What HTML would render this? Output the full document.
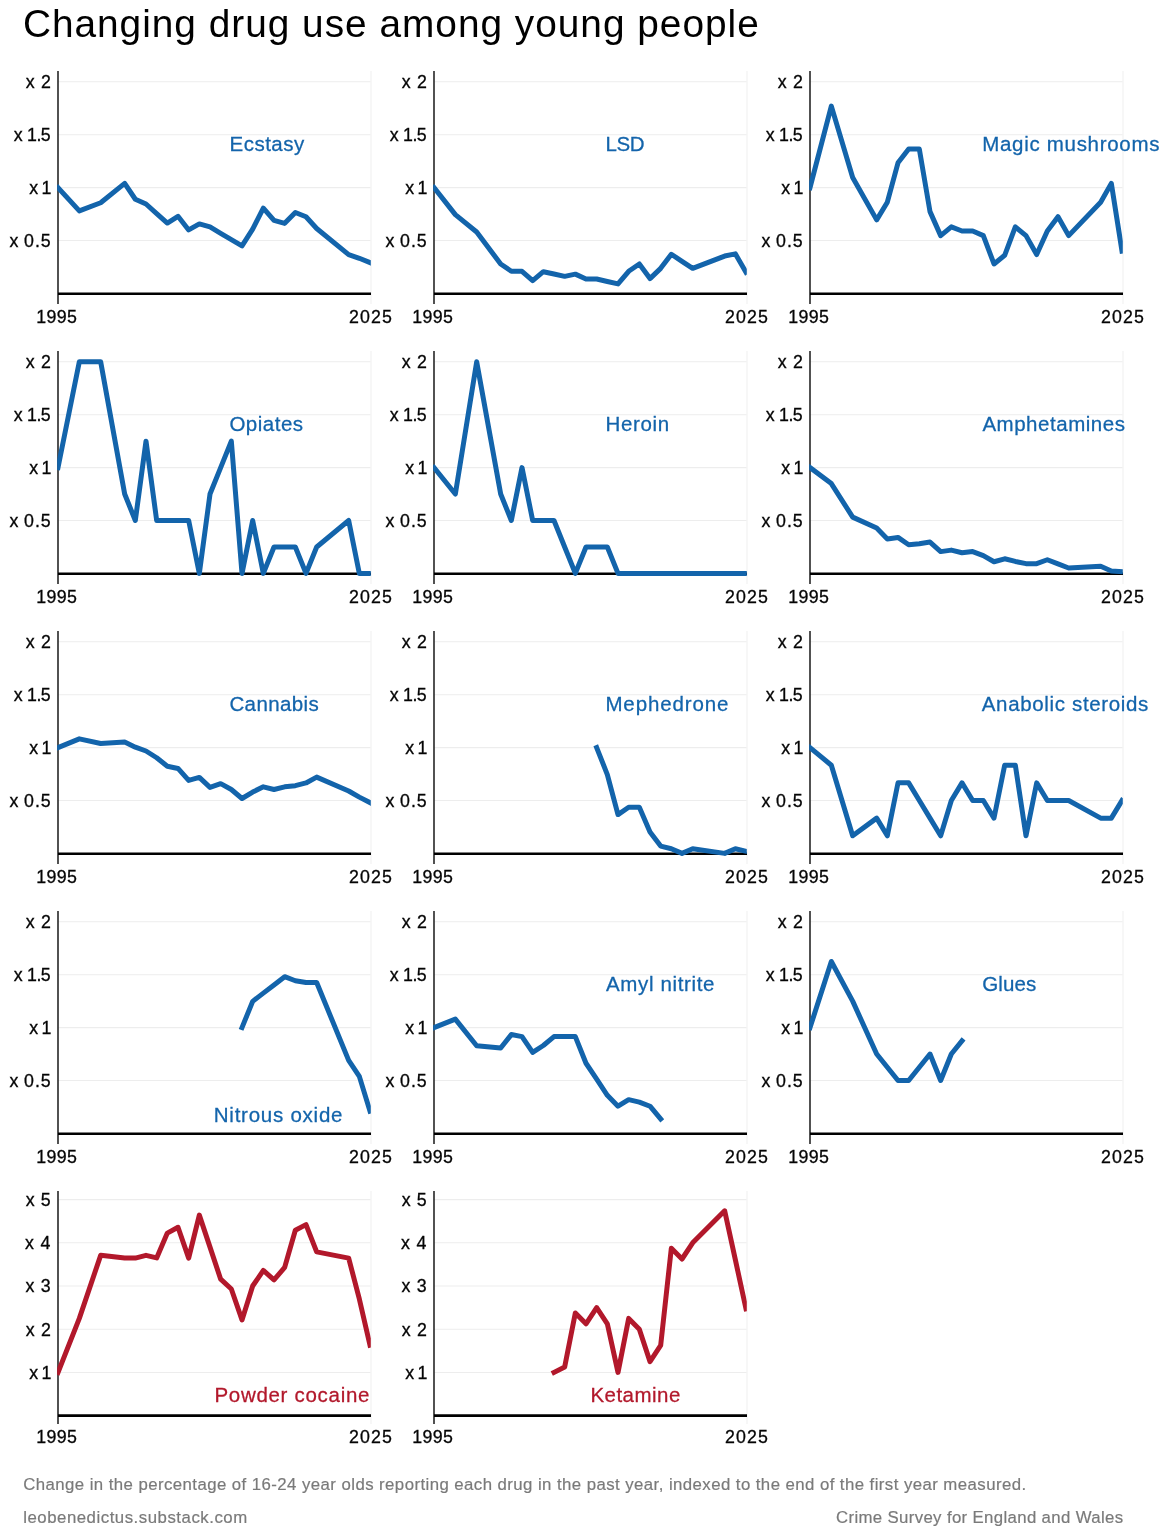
<!DOCTYPE html>
<html lang="en"><head><meta charset="utf-8"><title>Changing drug use among young people</title>
<style>
html,body{margin:0;padding:0;background:#ffffff;}
body{width:1169px;height:1536px;overflow:hidden;font-family:"Liberation Sans",sans-serif;}
svg{display:block;font-family:"Liberation Sans",sans-serif;}
.title{font-size:38.8px;fill:#000000;}
.tick{font-size:17.8px;fill:#050505;stroke:#050505;stroke-width:0.3px;}
.lab{font-size:20.5px;stroke-width:0.28px;}
.cap{font-size:16.8px;fill:#7a7a7a;stroke:#7a7a7a;stroke-width:0.2px;}
.grid{stroke:#ededed;stroke-width:1.05;fill:none;}
.axis{stroke:#262626;stroke-width:1.6;fill:none;}
.base{stroke:#000000;stroke-width:2.55;fill:none;}
.ln{fill:none;stroke-width:5;stroke-linejoin:round;stroke-linecap:square;}
#wrap{width:1169px;height:1536px;will-change:transform;}
</style></head><body><div id="wrap">
<svg width="1169" height="1536" viewBox="0 0 1169 1536">
<text class="title" x="22.90" y="37.3" style="letter-spacing:0.994px">Changing drug use among young people</text>
<defs>
<clipPath id="cp0"><rect x="57.15" y="65.00" width="313.65" height="246.00"/></clipPath>
<clipPath id="cp1"><rect x="433.15" y="65.00" width="313.65" height="246.00"/></clipPath>
<clipPath id="cp2"><rect x="809.15" y="65.00" width="313.65" height="246.00"/></clipPath>
<clipPath id="cp3"><rect x="57.15" y="345.00" width="313.65" height="246.00"/></clipPath>
<clipPath id="cp4"><rect x="433.15" y="345.00" width="313.65" height="246.00"/></clipPath>
<clipPath id="cp5"><rect x="809.15" y="345.00" width="313.65" height="246.00"/></clipPath>
<clipPath id="cp6"><rect x="57.15" y="625.00" width="313.65" height="246.00"/></clipPath>
<clipPath id="cp7"><rect x="433.15" y="625.00" width="313.65" height="246.00"/></clipPath>
<clipPath id="cp8"><rect x="809.15" y="625.00" width="313.65" height="246.00"/></clipPath>
<clipPath id="cp9"><rect x="57.15" y="905.00" width="313.65" height="246.00"/></clipPath>
<clipPath id="cp10"><rect x="433.15" y="905.00" width="313.65" height="246.00"/></clipPath>
<clipPath id="cp11"><rect x="809.15" y="905.00" width="313.65" height="246.00"/></clipPath>
<clipPath id="cp12"><rect x="57.15" y="1185.00" width="313.65" height="246.00"/></clipPath>
<clipPath id="cp13"><rect x="433.15" y="1185.00" width="313.65" height="246.00"/></clipPath>
</defs>
<g>
<line class="grid" x1="58.00" y1="240.50" x2="370.60" y2="240.50"/>
<text class="tick" x="9.60" y="246.90">x</text>
<text class="tick" x="24.12" y="246.90" style="letter-spacing:0.940px">0.5</text>
<line class="grid" x1="58.00" y1="187.60" x2="370.60" y2="187.60"/>
<text class="tick" x="29.20" y="194.00">x</text>
<text class="tick" x="41.56" y="194.00">1</text>
<line class="grid" x1="58.00" y1="134.70" x2="370.60" y2="134.70"/>
<text class="tick" x="13.80" y="141.10">x</text>
<text class="tick" x="27.06" y="141.10" style="letter-spacing:-0.530px">1.5</text>
<line class="grid" x1="58.00" y1="81.80" x2="370.60" y2="81.80"/>
<text class="tick" x="25.80" y="88.20">x</text>
<text class="tick" x="40.98" y="88.20">2</text>
<line class="grid" style="stroke:#f0f0f0" x1="371.00" y1="71.00" x2="371.00" y2="304.00"/>
<line class="axis" x1="58.00" y1="71.00" x2="58.00" y2="304.00"/>
<line class="base" x1="58.00" y1="293.70" x2="371.00" y2="293.70"/>
<text class="tick" x="36.26" y="323.40" style="letter-spacing:0.327px">1995</text>
<text class="tick" x="348.92" y="323.40" style="letter-spacing:1.173px">2025</text>
<polyline class="ln" clip-path="url(#cp0)" stroke="#1364ab" points="58.00,187.60 79.33,210.88 100.67,202.73 124.67,183.37 135.33,199.24 146.00,204.00 156.67,213.52 167.33,223.04 178.00,216.27 188.67,229.92 199.33,223.89 210.00,226.96 220.67,233.31 231.33,239.55 242.00,245.90 252.67,229.18 263.33,208.13 274.00,220.40 284.67,223.36 295.33,212.46 306.00,216.80 316.67,228.44 348.67,254.57 359.33,258.27 370.00,262.61"/>
<text class="lab" id="lab0" fill="#1364ab" stroke="#1364ab" x="229.60" y="150.90" style="letter-spacing:0.467px">Ecstasy</text>
</g>
<g>
<line class="grid" x1="434.00" y1="240.50" x2="746.60" y2="240.50"/>
<text class="tick" x="385.60" y="246.90">x</text>
<text class="tick" x="400.12" y="246.90" style="letter-spacing:0.940px">0.5</text>
<line class="grid" x1="434.00" y1="187.60" x2="746.60" y2="187.60"/>
<text class="tick" x="405.20" y="194.00">x</text>
<text class="tick" x="417.56" y="194.00">1</text>
<line class="grid" x1="434.00" y1="134.70" x2="746.60" y2="134.70"/>
<text class="tick" x="389.80" y="141.10">x</text>
<text class="tick" x="403.06" y="141.10" style="letter-spacing:-0.530px">1.5</text>
<line class="grid" x1="434.00" y1="81.80" x2="746.60" y2="81.80"/>
<text class="tick" x="401.80" y="88.20">x</text>
<text class="tick" x="416.98" y="88.20">2</text>
<line class="grid" style="stroke:#f0f0f0" x1="747.00" y1="71.00" x2="747.00" y2="304.00"/>
<line class="axis" x1="434.00" y1="71.00" x2="434.00" y2="304.00"/>
<line class="base" x1="434.00" y1="293.70" x2="747.00" y2="293.70"/>
<text class="tick" x="412.26" y="323.40" style="letter-spacing:0.327px">1995</text>
<text class="tick" x="724.92" y="323.40" style="letter-spacing:1.173px">2025</text>
<polyline class="ln" clip-path="url(#cp1)" stroke="#1364ab" points="434.00,187.60 455.33,214.58 476.67,232.04 500.67,263.99 511.33,271.29 522.00,271.29 532.67,280.70 543.33,271.71 554.00,274.04 564.67,276.37 575.33,274.14 586.00,279.01 596.67,279.01 607.33,281.44 618.00,283.88 628.67,271.29 639.33,263.99 650.00,278.59 660.67,268.33 671.33,254.25 682.00,261.34 692.67,268.33 724.67,256.05 735.33,253.83 746.00,272.24"/>
<text class="lab" id="lab1" fill="#1364ab" stroke="#1364ab" x="605.40" y="150.90" style="letter-spacing:-0.300px">LSD</text>
</g>
<g>
<line class="grid" x1="810.00" y1="240.50" x2="1122.60" y2="240.50"/>
<text class="tick" x="761.60" y="246.90">x</text>
<text class="tick" x="776.12" y="246.90" style="letter-spacing:0.940px">0.5</text>
<line class="grid" x1="810.00" y1="187.60" x2="1122.60" y2="187.60"/>
<text class="tick" x="781.20" y="194.00">x</text>
<text class="tick" x="793.56" y="194.00">1</text>
<line class="grid" x1="810.00" y1="134.70" x2="1122.60" y2="134.70"/>
<text class="tick" x="765.80" y="141.10">x</text>
<text class="tick" x="779.06" y="141.10" style="letter-spacing:-0.530px">1.5</text>
<line class="grid" x1="810.00" y1="81.80" x2="1122.60" y2="81.80"/>
<text class="tick" x="777.80" y="88.20">x</text>
<text class="tick" x="792.98" y="88.20">2</text>
<line class="grid" style="stroke:#f0f0f0" x1="1123.00" y1="71.00" x2="1123.00" y2="304.00"/>
<line class="axis" x1="810.00" y1="71.00" x2="810.00" y2="304.00"/>
<line class="base" x1="810.00" y1="293.70" x2="1123.00" y2="293.70"/>
<text class="tick" x="788.26" y="323.40" style="letter-spacing:0.327px">1995</text>
<text class="tick" x="1100.92" y="323.40" style="letter-spacing:1.173px">2025</text>
<polyline class="ln" clip-path="url(#cp2)" stroke="#1364ab" points="810.00,187.60 831.33,106.13 852.67,177.44 876.67,219.87 887.33,202.20 898.00,162.84 908.67,149.09 919.33,149.09 930.00,211.62 940.67,235.63 951.33,226.85 962.00,230.98 972.67,230.98 983.33,235.63 994.00,263.99 1004.67,255.31 1015.33,226.85 1026.00,235.63 1036.67,254.57 1047.33,230.98 1058.00,216.69 1068.67,235.63 1100.67,202.20 1111.33,183.37 1122.00,251.08"/>
<text class="lab" id="lab2" fill="#1364ab" stroke="#1364ab" x="982.20" y="150.90" style="letter-spacing:0.700px">Magic mushrooms</text>
</g>
<g>
<line class="grid" x1="58.00" y1="520.50" x2="370.60" y2="520.50"/>
<text class="tick" x="9.60" y="526.90">x</text>
<text class="tick" x="24.12" y="526.90" style="letter-spacing:0.940px">0.5</text>
<line class="grid" x1="58.00" y1="467.60" x2="370.60" y2="467.60"/>
<text class="tick" x="29.20" y="474.00">x</text>
<text class="tick" x="41.56" y="474.00">1</text>
<line class="grid" x1="58.00" y1="414.70" x2="370.60" y2="414.70"/>
<text class="tick" x="13.80" y="421.10">x</text>
<text class="tick" x="27.06" y="421.10" style="letter-spacing:-0.530px">1.5</text>
<line class="grid" x1="58.00" y1="361.80" x2="370.60" y2="361.80"/>
<text class="tick" x="25.80" y="368.20">x</text>
<text class="tick" x="40.98" y="368.20">2</text>
<line class="grid" style="stroke:#f0f0f0" x1="371.00" y1="351.00" x2="371.00" y2="584.00"/>
<line class="axis" x1="58.00" y1="351.00" x2="58.00" y2="584.00"/>
<line class="base" x1="58.00" y1="573.70" x2="371.00" y2="573.70"/>
<text class="tick" x="36.26" y="603.40" style="letter-spacing:0.327px">1995</text>
<text class="tick" x="348.92" y="603.40" style="letter-spacing:1.173px">2025</text>
<polyline class="ln" clip-path="url(#cp3)" stroke="#1364ab" points="58.00,467.60 79.33,361.80 100.67,361.80 124.67,494.05 135.33,520.50 146.00,441.15 156.67,520.50 167.33,520.50 178.00,520.50 188.67,520.50 199.33,573.40 210.00,494.05 220.67,467.60 231.33,441.15 242.00,573.40 252.67,520.50 263.33,573.40 274.00,546.95 284.67,546.95 295.33,546.95 306.00,573.40 316.67,546.95 348.67,520.50 359.33,573.40 370.00,573.40"/>
<text class="lab" id="lab3" fill="#1364ab" stroke="#1364ab" x="229.40" y="430.90" style="letter-spacing:0.500px">Opiates</text>
</g>
<g>
<line class="grid" x1="434.00" y1="520.50" x2="746.60" y2="520.50"/>
<text class="tick" x="385.60" y="526.90">x</text>
<text class="tick" x="400.12" y="526.90" style="letter-spacing:0.940px">0.5</text>
<line class="grid" x1="434.00" y1="467.60" x2="746.60" y2="467.60"/>
<text class="tick" x="405.20" y="474.00">x</text>
<text class="tick" x="417.56" y="474.00">1</text>
<line class="grid" x1="434.00" y1="414.70" x2="746.60" y2="414.70"/>
<text class="tick" x="389.80" y="421.10">x</text>
<text class="tick" x="403.06" y="421.10" style="letter-spacing:-0.530px">1.5</text>
<line class="grid" x1="434.00" y1="361.80" x2="746.60" y2="361.80"/>
<text class="tick" x="401.80" y="368.20">x</text>
<text class="tick" x="416.98" y="368.20">2</text>
<line class="grid" style="stroke:#f0f0f0" x1="747.00" y1="351.00" x2="747.00" y2="584.00"/>
<line class="axis" x1="434.00" y1="351.00" x2="434.00" y2="584.00"/>
<line class="base" x1="434.00" y1="573.70" x2="747.00" y2="573.70"/>
<text class="tick" x="412.26" y="603.40" style="letter-spacing:0.327px">1995</text>
<text class="tick" x="724.92" y="603.40" style="letter-spacing:1.173px">2025</text>
<polyline class="ln" clip-path="url(#cp4)" stroke="#1364ab" points="434.00,467.60 455.33,494.05 476.67,361.80 500.67,494.05 511.33,520.50 522.00,467.60 532.67,520.50 543.33,520.50 554.00,520.50 564.67,546.95 575.33,573.40 586.00,546.95 596.67,546.95 607.33,546.95 618.00,573.40 628.67,573.40 639.33,573.40 650.00,573.40 660.67,573.40 671.33,573.40 682.00,573.40 692.67,573.40 724.67,573.40 735.33,573.40 746.00,573.40"/>
<text class="lab" id="lab4" fill="#1364ab" stroke="#1364ab" x="605.40" y="430.90" style="letter-spacing:0.680px">Heroin</text>
</g>
<g>
<line class="grid" x1="810.00" y1="520.50" x2="1122.60" y2="520.50"/>
<text class="tick" x="761.60" y="526.90">x</text>
<text class="tick" x="776.12" y="526.90" style="letter-spacing:0.940px">0.5</text>
<line class="grid" x1="810.00" y1="467.60" x2="1122.60" y2="467.60"/>
<text class="tick" x="781.20" y="474.00">x</text>
<text class="tick" x="793.56" y="474.00">1</text>
<line class="grid" x1="810.00" y1="414.70" x2="1122.60" y2="414.70"/>
<text class="tick" x="765.80" y="421.10">x</text>
<text class="tick" x="779.06" y="421.10" style="letter-spacing:-0.530px">1.5</text>
<line class="grid" x1="810.00" y1="361.80" x2="1122.60" y2="361.80"/>
<text class="tick" x="777.80" y="368.20">x</text>
<text class="tick" x="792.98" y="368.20">2</text>
<line class="grid" style="stroke:#f0f0f0" x1="1123.00" y1="351.00" x2="1123.00" y2="584.00"/>
<line class="axis" x1="810.00" y1="351.00" x2="810.00" y2="584.00"/>
<line class="base" x1="810.00" y1="573.70" x2="1123.00" y2="573.70"/>
<text class="tick" x="788.26" y="603.40" style="letter-spacing:0.327px">1995</text>
<text class="tick" x="1100.92" y="603.40" style="letter-spacing:1.173px">2025</text>
<polyline class="ln" clip-path="url(#cp5)" stroke="#1364ab" points="810.00,467.60 831.33,483.58 852.67,517.11 876.67,528.01 887.33,538.91 898.00,537.43 908.67,544.73 919.33,543.78 930.00,542.08 940.67,551.61 951.33,550.12 962.00,552.77 972.67,551.61 983.33,555.63 994.00,561.76 1004.67,558.80 1015.33,561.44 1026.00,563.67 1036.67,563.67 1047.33,559.75 1058.00,563.88 1068.67,568.00 1100.67,566.31 1111.33,570.97 1122.00,571.60"/>
<text class="lab" id="lab5" fill="#1364ab" stroke="#1364ab" x="982.40" y="430.90" style="letter-spacing:0.527px">Amphetamines</text>
</g>
<g>
<line class="grid" x1="58.00" y1="800.50" x2="370.60" y2="800.50"/>
<text class="tick" x="9.60" y="806.90">x</text>
<text class="tick" x="24.12" y="806.90" style="letter-spacing:0.940px">0.5</text>
<line class="grid" x1="58.00" y1="747.60" x2="370.60" y2="747.60"/>
<text class="tick" x="29.20" y="754.00">x</text>
<text class="tick" x="41.56" y="754.00">1</text>
<line class="grid" x1="58.00" y1="694.70" x2="370.60" y2="694.70"/>
<text class="tick" x="13.80" y="701.10">x</text>
<text class="tick" x="27.06" y="701.10" style="letter-spacing:-0.530px">1.5</text>
<line class="grid" x1="58.00" y1="641.80" x2="370.60" y2="641.80"/>
<text class="tick" x="25.80" y="648.20">x</text>
<text class="tick" x="40.98" y="648.20">2</text>
<line class="grid" style="stroke:#f0f0f0" x1="371.00" y1="631.00" x2="371.00" y2="864.00"/>
<line class="axis" x1="58.00" y1="631.00" x2="58.00" y2="864.00"/>
<line class="base" x1="58.00" y1="853.70" x2="371.00" y2="853.70"/>
<text class="tick" x="36.26" y="883.40" style="letter-spacing:0.327px">1995</text>
<text class="tick" x="348.92" y="883.40" style="letter-spacing:1.173px">2025</text>
<polyline class="ln" clip-path="url(#cp6)" stroke="#1364ab" points="58.00,747.60 79.33,738.82 100.67,743.47 124.67,742.10 135.33,747.18 146.00,750.99 156.67,757.76 167.33,766.22 178.00,768.44 188.67,780.40 199.33,777.44 210.00,787.38 220.67,783.68 231.33,789.50 242.00,798.49 252.67,792.04 263.33,786.85 274.00,789.50 284.67,786.85 295.33,785.69 306.00,782.94 316.67,777.12 348.67,790.98 359.33,797.11 370.00,802.62"/>
<text class="lab" id="lab6" fill="#1364ab" stroke="#1364ab" x="229.40" y="710.90" style="letter-spacing:0.400px">Cannabis</text>
</g>
<g>
<line class="grid" x1="434.00" y1="800.50" x2="746.60" y2="800.50"/>
<text class="tick" x="385.60" y="806.90">x</text>
<text class="tick" x="400.12" y="806.90" style="letter-spacing:0.940px">0.5</text>
<line class="grid" x1="434.00" y1="747.60" x2="746.60" y2="747.60"/>
<text class="tick" x="405.20" y="754.00">x</text>
<text class="tick" x="417.56" y="754.00">1</text>
<line class="grid" x1="434.00" y1="694.70" x2="746.60" y2="694.70"/>
<text class="tick" x="389.80" y="701.10">x</text>
<text class="tick" x="403.06" y="701.10" style="letter-spacing:-0.530px">1.5</text>
<line class="grid" x1="434.00" y1="641.80" x2="746.60" y2="641.80"/>
<text class="tick" x="401.80" y="648.20">x</text>
<text class="tick" x="416.98" y="648.20">2</text>
<line class="grid" style="stroke:#f0f0f0" x1="747.00" y1="631.00" x2="747.00" y2="864.00"/>
<line class="axis" x1="434.00" y1="631.00" x2="434.00" y2="864.00"/>
<line class="base" x1="434.00" y1="853.70" x2="747.00" y2="853.70"/>
<text class="tick" x="412.26" y="883.40" style="letter-spacing:0.327px">1995</text>
<text class="tick" x="724.92" y="883.40" style="letter-spacing:1.173px">2025</text>
<polyline class="ln" clip-path="url(#cp7)" stroke="#1364ab" points="596.67,747.60 607.33,774.58 618.00,814.57 628.67,807.27 639.33,807.27 650.00,832.03 660.67,846.10 671.33,848.74 682.00,853.40 692.67,848.74 724.67,853.40 735.33,848.74 746.00,851.28"/>
<text class="lab" id="lab7" fill="#1364ab" stroke="#1364ab" x="605.40" y="710.90" style="letter-spacing:0.889px">Mephedrone</text>
</g>
<g>
<line class="grid" x1="810.00" y1="800.50" x2="1122.60" y2="800.50"/>
<text class="tick" x="761.60" y="806.90">x</text>
<text class="tick" x="776.12" y="806.90" style="letter-spacing:0.940px">0.5</text>
<line class="grid" x1="810.00" y1="747.60" x2="1122.60" y2="747.60"/>
<text class="tick" x="781.20" y="754.00">x</text>
<text class="tick" x="793.56" y="754.00">1</text>
<line class="grid" x1="810.00" y1="694.70" x2="1122.60" y2="694.70"/>
<text class="tick" x="765.80" y="701.10">x</text>
<text class="tick" x="779.06" y="701.10" style="letter-spacing:-0.530px">1.5</text>
<line class="grid" x1="810.00" y1="641.80" x2="1122.60" y2="641.80"/>
<text class="tick" x="777.80" y="648.20">x</text>
<text class="tick" x="792.98" y="648.20">2</text>
<line class="grid" style="stroke:#f0f0f0" x1="1123.00" y1="631.00" x2="1123.00" y2="864.00"/>
<line class="axis" x1="810.00" y1="631.00" x2="810.00" y2="864.00"/>
<line class="base" x1="810.00" y1="853.70" x2="1123.00" y2="853.70"/>
<text class="tick" x="788.26" y="883.40" style="letter-spacing:0.327px">1995</text>
<text class="tick" x="1100.92" y="883.40" style="letter-spacing:1.173px">2025</text>
<polyline class="ln" clip-path="url(#cp8)" stroke="#1364ab" points="810.00,747.60 831.33,765.23 852.67,835.77 876.67,818.13 887.33,835.77 898.00,782.87 908.67,782.87 919.33,800.50 930.00,818.13 940.67,835.77 951.33,800.50 962.00,782.87 972.67,800.50 983.33,800.50 994.00,818.13 1004.67,765.23 1015.33,765.23 1026.00,835.77 1036.67,782.87 1047.33,800.50 1058.00,800.50 1068.67,800.50 1100.67,818.13 1111.33,818.13 1122.00,800.50"/>
<text class="lab" id="lab8" fill="#1364ab" stroke="#1364ab" x="981.80" y="710.90" style="letter-spacing:0.650px">Anabolic steroids</text>
</g>
<g>
<line class="grid" x1="58.00" y1="1080.50" x2="370.60" y2="1080.50"/>
<text class="tick" x="9.60" y="1086.90">x</text>
<text class="tick" x="24.12" y="1086.90" style="letter-spacing:0.940px">0.5</text>
<line class="grid" x1="58.00" y1="1027.60" x2="370.60" y2="1027.60"/>
<text class="tick" x="29.20" y="1034.00">x</text>
<text class="tick" x="41.56" y="1034.00">1</text>
<line class="grid" x1="58.00" y1="974.70" x2="370.60" y2="974.70"/>
<text class="tick" x="13.80" y="981.10">x</text>
<text class="tick" x="27.06" y="981.10" style="letter-spacing:-0.530px">1.5</text>
<line class="grid" x1="58.00" y1="921.80" x2="370.60" y2="921.80"/>
<text class="tick" x="25.80" y="928.20">x</text>
<text class="tick" x="40.98" y="928.20">2</text>
<line class="grid" style="stroke:#f0f0f0" x1="371.00" y1="911.00" x2="371.00" y2="1144.00"/>
<line class="axis" x1="58.00" y1="911.00" x2="58.00" y2="1144.00"/>
<line class="base" x1="58.00" y1="1133.70" x2="371.00" y2="1133.70"/>
<text class="tick" x="36.26" y="1163.40" style="letter-spacing:0.327px">1995</text>
<text class="tick" x="348.92" y="1163.40" style="letter-spacing:1.173px">2025</text>
<polyline class="ln" clip-path="url(#cp9)" stroke="#1364ab" points="242.00,1027.60 252.67,1001.36 263.33,993.11 274.00,984.96 284.67,976.71 295.33,980.73 306.00,982.53 316.67,982.53 348.67,1060.40 359.33,1076.37 370.00,1111.18"/>
<text class="lab" id="lab9" fill="#1364ab" stroke="#1364ab" x="213.80" y="1122.10" style="letter-spacing:0.750px">Nitrous oxide</text>
</g>
<g>
<line class="grid" x1="434.00" y1="1080.50" x2="746.60" y2="1080.50"/>
<text class="tick" x="385.60" y="1086.90">x</text>
<text class="tick" x="400.12" y="1086.90" style="letter-spacing:0.940px">0.5</text>
<line class="grid" x1="434.00" y1="1027.60" x2="746.60" y2="1027.60"/>
<text class="tick" x="405.20" y="1034.00">x</text>
<text class="tick" x="417.56" y="1034.00">1</text>
<line class="grid" x1="434.00" y1="974.70" x2="746.60" y2="974.70"/>
<text class="tick" x="389.80" y="981.10">x</text>
<text class="tick" x="403.06" y="981.10" style="letter-spacing:-0.530px">1.5</text>
<line class="grid" x1="434.00" y1="921.80" x2="746.60" y2="921.80"/>
<text class="tick" x="401.80" y="928.20">x</text>
<text class="tick" x="416.98" y="928.20">2</text>
<line class="grid" style="stroke:#f0f0f0" x1="747.00" y1="911.00" x2="747.00" y2="1144.00"/>
<line class="axis" x1="434.00" y1="911.00" x2="434.00" y2="1144.00"/>
<line class="base" x1="434.00" y1="1133.70" x2="747.00" y2="1133.70"/>
<text class="tick" x="412.26" y="1163.40" style="letter-spacing:0.327px">1995</text>
<text class="tick" x="724.92" y="1163.40" style="letter-spacing:1.173px">2025</text>
<polyline class="ln" clip-path="url(#cp10)" stroke="#1364ab" points="434.00,1027.60 455.33,1019.14 476.67,1045.80 500.67,1048.02 511.33,1034.58 522.00,1036.59 532.67,1052.36 543.33,1045.48 554.00,1036.59 564.67,1036.59 575.33,1036.59 586.00,1063.25 596.67,1079.23 607.33,1095.31 618.00,1106.21 628.67,1099.65 639.33,1102.08 650.00,1106.21 660.67,1119.01"/>
<text class="lab" id="lab10" fill="#1364ab" stroke="#1364ab" x="606.00" y="990.90" style="letter-spacing:0.636px">Amyl nitrite</text>
</g>
<g>
<line class="grid" x1="810.00" y1="1080.50" x2="1122.60" y2="1080.50"/>
<text class="tick" x="761.60" y="1086.90">x</text>
<text class="tick" x="776.12" y="1086.90" style="letter-spacing:0.940px">0.5</text>
<line class="grid" x1="810.00" y1="1027.60" x2="1122.60" y2="1027.60"/>
<text class="tick" x="781.20" y="1034.00">x</text>
<text class="tick" x="793.56" y="1034.00">1</text>
<line class="grid" x1="810.00" y1="974.70" x2="1122.60" y2="974.70"/>
<text class="tick" x="765.80" y="981.10">x</text>
<text class="tick" x="779.06" y="981.10" style="letter-spacing:-0.530px">1.5</text>
<line class="grid" x1="810.00" y1="921.80" x2="1122.60" y2="921.80"/>
<text class="tick" x="777.80" y="928.20">x</text>
<text class="tick" x="792.98" y="928.20">2</text>
<line class="grid" style="stroke:#f0f0f0" x1="1123.00" y1="911.00" x2="1123.00" y2="1144.00"/>
<line class="axis" x1="810.00" y1="911.00" x2="810.00" y2="1144.00"/>
<line class="base" x1="810.00" y1="1133.70" x2="1123.00" y2="1133.70"/>
<text class="tick" x="788.26" y="1163.40" style="letter-spacing:0.327px">1995</text>
<text class="tick" x="1100.92" y="1163.40" style="letter-spacing:1.173px">2025</text>
<polyline class="ln" clip-path="url(#cp11)" stroke="#1364ab" points="810.00,1027.60 831.33,961.48 852.67,1001.15 876.67,1054.05 887.33,1067.28 898.00,1080.50 908.67,1080.50 919.33,1067.28 930.00,1054.05 940.67,1080.50 951.33,1054.05 962.00,1040.83"/>
<text class="lab" id="lab11" fill="#1364ab" stroke="#1364ab" x="982.20" y="990.90" style="letter-spacing:0.150px">Glues</text>
</g>
<g>
<line class="grid" x1="58.00" y1="1372.40" x2="370.60" y2="1372.40"/>
<text class="tick" x="29.20" y="1378.80">x</text>
<text class="tick" x="41.56" y="1378.80">1</text>
<line class="grid" x1="58.00" y1="1329.20" x2="370.60" y2="1329.20"/>
<text class="tick" x="25.80" y="1335.60">x</text>
<text class="tick" x="40.98" y="1335.60">2</text>
<line class="grid" x1="58.00" y1="1286.00" x2="370.60" y2="1286.00"/>
<text class="tick" x="25.40" y="1292.40">x</text>
<text class="tick" x="40.68" y="1292.40">3</text>
<line class="grid" x1="58.00" y1="1242.80" x2="370.60" y2="1242.80"/>
<text class="tick" x="25.00" y="1249.20">x</text>
<text class="tick" x="40.52" y="1249.20">4</text>
<line class="grid" x1="58.00" y1="1199.60" x2="370.60" y2="1199.60"/>
<text class="tick" x="25.80" y="1206.00">x</text>
<text class="tick" x="40.64" y="1206.00">5</text>
<line class="grid" style="stroke:#f0f0f0" x1="371.00" y1="1191.00" x2="371.00" y2="1424.00"/>
<line class="axis" x1="58.00" y1="1191.00" x2="58.00" y2="1424.00"/>
<line class="base" x1="58.00" y1="1415.60" x2="371.00" y2="1415.60"/>
<text class="tick" x="36.26" y="1443.40" style="letter-spacing:0.327px">1995</text>
<text class="tick" x="348.92" y="1443.40" style="letter-spacing:1.173px">2025</text>
<polyline class="ln" clip-path="url(#cp12)" stroke="#b2182b" points="58.00,1372.40 79.33,1318.40 100.67,1255.33 124.67,1258.09 135.33,1258.09 146.00,1255.33 156.67,1257.92 167.33,1233.08 178.00,1227.25 188.67,1258.09 199.33,1215.15 210.00,1247.12 220.67,1279.17 231.33,1289.02 242.00,1319.91 252.67,1286.00 263.33,1270.45 274.00,1279.95 284.67,1267.42 295.33,1230.27 306.00,1224.66 316.67,1251.87 348.67,1258.09 359.33,1298.96 370.00,1345.18"/>
<text class="lab" id="lab12" fill="#b2182b" stroke="#b2182b" x="214.40" y="1402.10" style="letter-spacing:0.708px">Powder cocaine</text>
</g>
<g>
<line class="grid" x1="434.00" y1="1372.40" x2="746.60" y2="1372.40"/>
<text class="tick" x="405.20" y="1378.80">x</text>
<text class="tick" x="417.56" y="1378.80">1</text>
<line class="grid" x1="434.00" y1="1329.20" x2="746.60" y2="1329.20"/>
<text class="tick" x="401.80" y="1335.60">x</text>
<text class="tick" x="416.98" y="1335.60">2</text>
<line class="grid" x1="434.00" y1="1286.00" x2="746.60" y2="1286.00"/>
<text class="tick" x="401.40" y="1292.40">x</text>
<text class="tick" x="416.68" y="1292.40">3</text>
<line class="grid" x1="434.00" y1="1242.80" x2="746.60" y2="1242.80"/>
<text class="tick" x="401.00" y="1249.20">x</text>
<text class="tick" x="416.52" y="1249.20">4</text>
<line class="grid" x1="434.00" y1="1199.60" x2="746.60" y2="1199.60"/>
<text class="tick" x="401.80" y="1206.00">x</text>
<text class="tick" x="416.64" y="1206.00">5</text>
<line class="grid" style="stroke:#f0f0f0" x1="747.00" y1="1191.00" x2="747.00" y2="1424.00"/>
<line class="axis" x1="434.00" y1="1191.00" x2="434.00" y2="1424.00"/>
<line class="base" x1="434.00" y1="1415.60" x2="747.00" y2="1415.60"/>
<text class="tick" x="412.26" y="1443.40" style="letter-spacing:0.327px">1995</text>
<text class="tick" x="724.92" y="1443.40" style="letter-spacing:1.173px">2025</text>
<polyline class="ln" clip-path="url(#cp13)" stroke="#b2182b" points="554.00,1372.40 564.67,1367.00 575.33,1313.00 586.00,1323.80 596.67,1307.60 607.33,1323.80 618.00,1372.40 628.67,1318.40 639.33,1329.20 650.00,1361.60 660.67,1345.40 671.33,1248.20 682.00,1259.00 692.67,1242.80 724.67,1210.83 735.33,1259.65 746.00,1308.90"/>
<text class="lab" id="lab13" fill="#b2182b" stroke="#b2182b" x="590.40" y="1402.10" style="letter-spacing:0.486px">Ketamine</text>
</g>
<text class="cap" x="23.20" y="1490.10" style="letter-spacing:0.434px">Change in the percentage of 16-24 year olds reporting each drug in the past year, indexed to the end of the first year measured.</text>
<text class="cap" x="23.20" y="1523.20" style="letter-spacing:0.528px">leobenedictus.substack.com</text>
<text class="cap" x="836.00" y="1523.20" style="letter-spacing:0.352px">Crime Survey for England and Wales</text>
</svg>
</div></body></html>
